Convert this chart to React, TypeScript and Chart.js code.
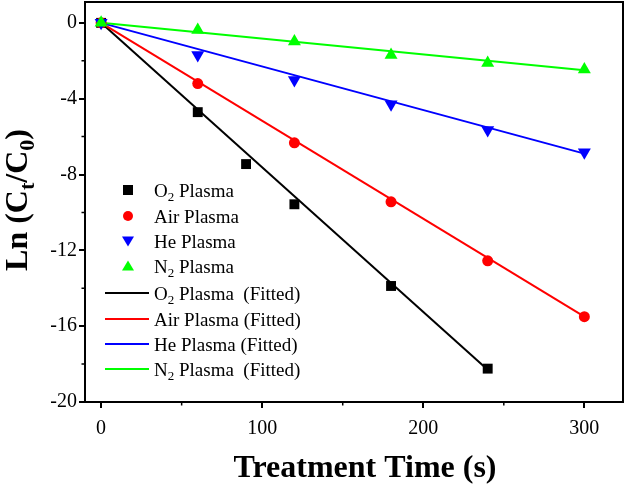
import React, { useEffect, useRef } from "react";
import { Chart, registerables } from "chart.js";

Chart.register(...registerables);

// ---- Data ----
const o2Time = [0, 60, 90, 120, 180, 240];
const o2Vals = [0, -4.71, -7.45, -9.57, -13.88, -18.24];
const airTime = [0, 60, 120, 180, 240, 300];
const airVals = [0, -3.2, -6.33, -9.44, -12.55, -15.5];
const heTime = [0, 60, 120, 180, 240, 300];
const heVals = [0, -1.7, -3.02, -4.3, -5.65, -6.82];
const n2Time = [0, 60, 120, 180, 240, 300];
const n2Vals = [0, -0.38, -0.98, -1.7, -2.12, -2.46];

const o2FitTime = [0, 240];
const o2Fit = [0, -18.3];
const airFitTime = [0, 300];
const airFit = [0, -15.5];
const heFitTime = [0, 300];
const heFit = [0, -6.9];
const n2FitTime = [0, 300];
const n2Fit = [0, -2.5];

const xTicks = [0, 100, 200, 300];
const xMinorTicks = [50, 150, 250];
const yTicks = [-20, -16, -12, -8, -4, 0];
const yMinorTicks = [-18, -14, -10, -6, -2];

const BLACK = "#000000";
const RED = "#ff0000";
const BLUE = "#0000ff";
const GREEN = "#00ff00";

const SERIF = "'Liberation Serif', 'Times New Roman', serif";

const pts = (xs: number[], ys: number[]) => xs.map((x, i) => ({ x, y: ys[i] }));

type Piece = { t: string; sub?: boolean };

function drawPieces(ctx: CanvasRenderingContext2D, pieces: Piece[], x: number, y: number, size: number, subSize: number, bold: boolean, align: "left" | "center") {
  const w = bold ? "bold " : "";
  const widths = pieces.map((p) => {
    ctx.font = `${w}${p.sub ? subSize : size}px ${SERIF}`;
    return ctx.measureText(p.t).width;
  });
  const total = widths.reduce((a, b) => a + b, 0);
  let cx = align === "center" ? x - total / 2 : x;
  ctx.textAlign = "left";
  ctx.textBaseline = "alphabetic";
  pieces.forEach((p, i) => {
    ctx.font = `${w}${p.sub ? subSize : size}px ${SERIF}`;
    ctx.fillText(p.t, cx, p.sub ? y + size * 0.22 : y);
    cx += widths[i];
  });
}

const legendItems: { kind: "marker" | "line"; shape?: string; color: string; pieces: Piece[] }[] = [
  { kind: "marker", shape: "rect", color: BLACK, pieces: [{ t: "O" }, { t: "2", sub: true }, { t: " Plasma" }] },
  { kind: "marker", shape: "circle", color: RED, pieces: [{ t: "Air Plasma" }] },
  { kind: "marker", shape: "down", color: BLUE, pieces: [{ t: "He Plasma" }] },
  { kind: "marker", shape: "up", color: GREEN, pieces: [{ t: "N" }, { t: "2", sub: true }, { t: " Plasma" }] },
  { kind: "line", color: BLACK, pieces: [{ t: "O" }, { t: "2", sub: true }, { t: " Plasma  (Fitted)" }] },
  { kind: "line", color: RED, pieces: [{ t: "Air Plasma (Fitted)" }] },
  { kind: "line", color: BLUE, pieces: [{ t: "He Plasma (Fitted)" }] },
  { kind: "line", color: GREEN, pieces: [{ t: "N" }, { t: "2", sub: true }, { t: " Plasma  (Fitted)" }] },
];

const decorPlugin = {
  id: "decor",
  afterDraw(chart: any) {
    const ctx: CanvasRenderingContext2D = chart.ctx;
    const { left, right, top, bottom } = chart.chartArea;
    const xs = chart.scales.x;
    const ys = chart.scales.y;
    ctx.save();
    // frame
    ctx.strokeStyle = "#000";
    ctx.lineWidth = 2;
    ctx.strokeRect(left, top, right - left, bottom - top);
    // minor ticks
    ctx.lineWidth = 1.5;
    ctx.beginPath();
    xMinorTicks.forEach((v) => {
      const px = xs.getPixelForValue(v);
      ctx.moveTo(px, bottom);
      ctx.lineTo(px, bottom + 3.5);
    });
    yMinorTicks.forEach((v) => {
      const py = ys.getPixelForValue(v);
      ctx.moveTo(left, py);
      ctx.lineTo(left - 3.5, py);
    });
    ctx.stroke();

    ctx.fillStyle = "#000";
    // x title
    drawPieces(ctx, [{ t: "Treatment Time (s)" }], 365, 477, 32, 21, true, "center");
    // y title
    ctx.save();
    ctx.translate(27, 200);
    ctx.rotate(-Math.PI / 2);
    drawPieces(
      ctx,
      [{ t: "Ln (C" }, { t: "t", sub: true }, { t: "/C" }, { t: "0", sub: true }, { t: ")" }],
      0,
      0,
      32,
      22,
      true,
      "center"
    );
    ctx.restore();

    // legend
    const rowY = [190, 216, 241, 266, 293, 319, 344, 369];
    legendItems.forEach((it, i) => {
      const y = rowY[i];
      ctx.fillStyle = it.color;
      ctx.strokeStyle = it.color;
      if (it.kind === "marker") {
        const cx = 128;
        ctx.beginPath();
        if (it.shape === "rect") {
          ctx.rect(cx - 5, y - 5, 10, 10);
        } else if (it.shape === "circle") {
          ctx.arc(cx, y, 5, 0, Math.PI * 2);
        } else if (it.shape === "down") {
          ctx.moveTo(cx - 6, y - 4.5);
          ctx.lineTo(cx + 6, y - 4.5);
          ctx.lineTo(cx, y + 5.5);
          ctx.closePath();
        } else {
          ctx.moveTo(cx - 6, y + 4.5);
          ctx.lineTo(cx + 6, y + 4.5);
          ctx.lineTo(cx, y - 5.5);
          ctx.closePath();
        }
        ctx.fill();
      } else {
        ctx.lineWidth = 2;
        ctx.beginPath();
        ctx.moveTo(105, y);
        ctx.lineTo(149, y);
        ctx.stroke();
      }
      ctx.fillStyle = "#000";
      drawPieces(ctx, it.pieces, 154, y + 6.5, 19, 13, false, "left");
    });
    ctx.restore();
  },
};

export default function App() {
  const ref = useRef<HTMLCanvasElement | null>(null);
  useEffect(() => {
    if (!ref.current) return;
    const lineDs = (data: any, color: string, order: number) => ({
      type: "line" as const,
      data,
      borderColor: color,
      backgroundColor: color,
      borderWidth: 2,
      pointRadius: 0,
      showLine: true,
      fill: false,
      tension: 0,
      order,
    });
    const chart = new Chart(ref.current, {
      type: "scatter",
      data: {
        datasets: [
          { label: "O2 Plasma", data: pts(o2Time, o2Vals), pointStyle: "rect", pointRadius: 7, backgroundColor: BLACK, borderColor: BLACK, borderWidth: 0, order: 3 },
          { label: "Air Plasma", data: pts(airTime, airVals), pointStyle: "circle", pointRadius: 5.5, backgroundColor: RED, borderColor: RED, borderWidth: 0, order: 2 },
          { label: "He Plasma", data: pts(heTime, heVals), pointStyle: "triangle", pointRotation: 180, pointRadius: 7.5, backgroundColor: BLUE, borderColor: BLUE, borderWidth: 0, order: 1 },
          { label: "N2 Plasma", data: pts(n2Time, n2Vals), pointStyle: "triangle", pointRadius: 7.5, backgroundColor: GREEN, borderColor: GREEN, borderWidth: 0, order: 0 },
          { label: "O2 Plasma (Fitted)", ...lineDs(pts(o2FitTime, o2Fit), BLACK, 7) },
          { label: "Air Plasma (Fitted)", ...lineDs(pts(airFitTime, airFit), RED, 6) },
          { label: "He Plasma (Fitted)", ...lineDs(pts(heFitTime, heFit), BLUE, 5) },
          { label: "N2 Plasma (Fitted)", ...lineDs(pts(n2FitTime, n2Fit), GREEN, 4) },
        ] as any,
      },
      options: {
        animation: false,
        responsive: false,
        maintainAspectRatio: false,
        layout: { autoPadding: false, padding: { top: 2, right: 6, left: 0, bottom: 0 } },
        plugins: { legend: { display: false }, tooltip: { enabled: false } },
        scales: {
          x: {
            type: "linear",
            min: -10,
            max: 324,
            afterBuildTicks: (s: any) => {
              s.ticks = xTicks.map((v) => ({ value: v }));
            },
            afterFit: (s: any) => {
              s.height = 84;
              s.paddingLeft = 0;
              s.paddingRight = 0;
            },
            ticks: { color: "#000", font: { family: SERIF, size: 20 }, padding: 9, maxRotation: 0 },
            grid: { drawOnChartArea: false, drawTicks: true, tickLength: 6, color: "#000", lineWidth: 2 },
            border: { display: true, color: "#000", width: 2 },
          },
          y: {
            type: "linear",
            min: -20,
            max: 1.1,
            afterBuildTicks: (s: any) => {
              s.ticks = yTicks.map((v) => ({ value: v }));
            },
            afterFit: (s: any) => {
              s.width = 85;
              s.paddingTop = 0;
              s.paddingBottom = 0;
            },
            ticks: { color: "#000", font: { family: SERIF, size: 20 }, padding: 2 },
            grid: { drawOnChartArea: false, drawTicks: true, tickLength: 6, color: "#000", lineWidth: 2 },
            border: { display: true, color: "#000", width: 2 },
          },
        },
      },
      plugins: [decorPlugin],
    } as any);
    return () => chart.destroy();
  }, []);
  return (
    <div style={{ position: "fixed", left: 0, top: 0, width: 629, height: 486, background: "#fff" }}>
      <canvas ref={ref} width={629} height={486} style={{ width: 629, height: 486, display: "block" }} />
    </div>
  );
}
